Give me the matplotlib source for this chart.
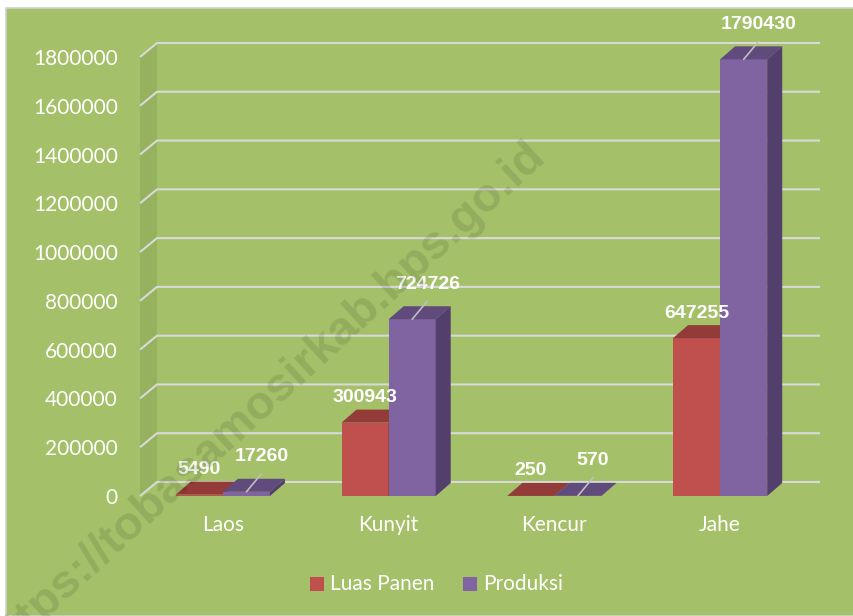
import numpy as np
import matplotlib
matplotlib.use('Agg')
import matplotlib.pyplot as plt
from matplotlib.patches import Polygon, Rectangle

plt.rcParams['font.family'] = ['Lato', 'DejaVu Sans']

# data
categories = ['Laos', 'Kunyit', 'Kencur', 'Jahe']
luas_panen = [5490, 300943, 250, 647255]
produksi = [17260, 724726, 570, 1790430]
yticks = [0, 200000, 400000, 600000, 800000, 1000000, 1200000, 1400000, 1600000, 1800000]

# colours
bg = '#A4C069'
wall = '#97B25E'
grid_c = '#D9D9D9'
red = ['#C0504D', '#933B39', '#7E302E']      # front, top, side
purple = ['#8064A2', '#614B7C', '#523F6B']

W, H = 854, 616
fig = plt.figure(figsize=(W / 100, H / 100), dpi=100)
fig.patch.set_facecolor('white')
fig.patches.append(Rectangle((6 / W, 0), 1, 1 - 8 / H, transform=fig.transFigure,
                             facecolor=bg, edgecolor='#D0D0D0', lw=1.2, zorder=-5))

# front plane of the 3d box, in pixels
x_left, x_right = 140, 803
y_zero, y_top = 496, 57
ax = fig.add_axes([x_left / W, 1 - y_zero / H, (x_right - x_left) / W, (y_zero - y_top) / H])
ax.set_xlim(-0.5, 3.5)
ax.set_ylim(0, 1800000)
ax.patch.set_alpha(0)
for s in ax.spines.values():
    s.set_visible(False)

# depth offsets converted from pixels to data units
px_x = 4 / (x_right - x_left)
px_y = 1800000 / (y_zero - y_top)
DX, DY = 17 * px_x, 14 * px_y        # wall depth
BDX, BDY = 15 * px_x, 13 * px_y      # bar depth

# left wall
ax.add_patch(Polygon([(-0.5, 0), (-0.5 + DX, DY), (-0.5 + DX, 1800000 + DY), (-0.5, 1800000)],
                     closed=True, facecolor=wall, edgecolor='none', clip_on=False, zorder=1))
# gridlines on back wall with the diagonal on the side wall
for t in yticks:
    ax.plot([-0.5, -0.5 + DX, 3.5 + DX], [t, t + DY, t + DY], color=grid_c, lw=1.5,
            clip_on=False, zorder=2, solid_capstyle='butt')

bw = 0.284
x = np.arange(len(categories))


def bar3d(xc, h, cols):
    x0, x1 = xc - bw / 2, xc + bw / 2
    ax.bar(xc, h, width=bw, color=cols[0], zorder=3, clip_on=False)
    ax.add_patch(Polygon([(x0, h), (x1, h), (x1 + BDX, h + BDY), (x0 + BDX, h + BDY)],
                         closed=True, facecolor=cols[1], edgecolor='none', zorder=3, clip_on=False))
    ax.add_patch(Polygon([(x1, 0), (x1 + BDX, BDY), (x1 + BDX, h + BDY), (x1, h)],
                         closed=True, facecolor=cols[2], edgecolor='none', zorder=3, clip_on=False))


lab_kw = dict(color='white', fontsize=14, fontweight='bold', family='Liberation Sans',
              ha='center', va='center', textcoords='offset pixels', zorder=6)
for i in range(len(categories)):
    xr = x[i] - bw / 2
    xp = x[i] + bw / 2
    bar3d(xr, luas_panen[i], red)
    bar3d(xp, produksi[i], purple)
    ax.annotate(f'{luas_panen[i]}', (xr, luas_panen[i]), xytext=(0, 25), **lab_kw)
    ax.annotate(f'{produksi[i]}', (xp, produksi[i]), xytext=(15, 35), **lab_kw)
    ax.annotate('', (xp, produksi[i]), xytext=(15, 18), textcoords='offset pixels',
                arrowprops=dict(arrowstyle='-', color='#BFBFBF', lw=1.2, shrinkA=0, shrinkB=0),
                zorder=5)

ax.set_yticks(yticks)
ax.set_yticklabels([str(t) for t in yticks])
ax.set_xticks(x)
ax.set_xticklabels(categories)
ax.tick_params(axis='y', length=0, pad=16, labelsize=15, labelcolor='white')
ax.tick_params(axis='x', length=0, pad=14, labelsize=15, labelcolor='white')

# legend
fig.patches.append(Rectangle((310 / W, 1 - 591 / H), 14 / W, 14 / H, transform=fig.transFigure,
                             facecolor=red[0], edgecolor='none'))
fig.text(330 / W, 1 - 584 / H, 'Luas Panen', color='white', fontsize=15, va='center', ha='left')
fig.patches.append(Rectangle((463 / W, 1 - 591 / H), 14 / W, 14 / H, transform=fig.transFigure,
                             facecolor=purple[0], edgecolor='none'))
fig.text(483 / W, 1 - 584 / H, 'Produksi', color='white', fontsize=15, va='center', ha='left')

# watermark
fig.text(265 / W, 1 - 400 / H, 'https://tobasamosirkab.bps.go.id', fontsize=34,
         fontweight='bold', family='Liberation Sans', color='black', alpha=0.1,
         rotation=42.5, ha='center', va='center', rotation_mode='anchor', zorder=10)

fig.savefig('out.png', dpi=100)
